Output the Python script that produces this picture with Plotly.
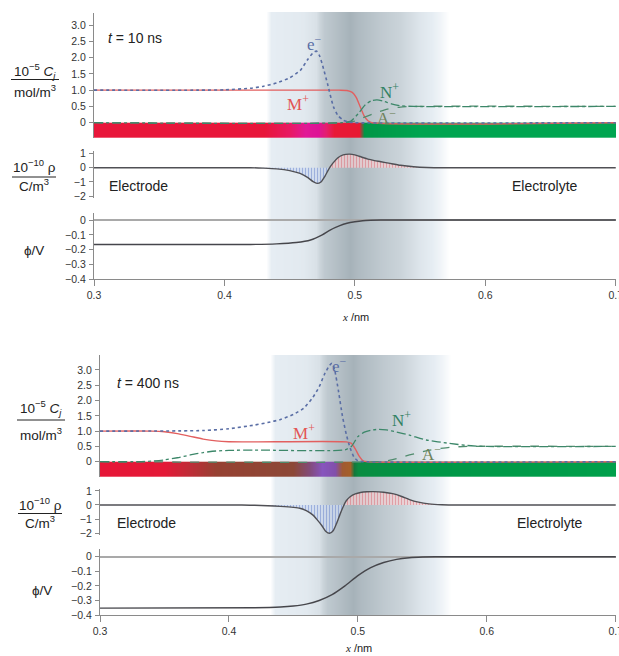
import numpy as np
import plotly.graph_objects as go

W, H = 619, 656

# ---------------- data: t = 10 ns ----------------
t10_M_x = [0.30, 0.40, 0.488, 0.494, 0.498, 0.501, 0.504, 0.507, 0.510, 0.513, 0.70]
t10_M_y = [1.0, 1.0, 1.0, 0.99, 0.93, 0.78, 0.5, 0.22, 0.06, 0.0, 0.0]

t10_e_x = [0.30, 0.38, 0.40, 0.42, 0.43, 0.44, 0.45, 0.458, 0.464, 0.468, 0.4705, 0.473, 0.476,
           0.479, 0.4835, 0.487, 0.491, 0.495, 0.50, 0.70]
t10_e_y = [1.0, 1.0, 1.01, 1.06, 1.12, 1.22, 1.38, 1.6, 1.95, 2.15, 2.2, 2.05, 1.65,
           1.2, 0.5, 0.22, 0.08, 0.02, 0.0, 0.0]

t10_N_x = [0.30, 0.490, 0.497, 0.503, 0.508, 0.513, 0.517, 0.522, 0.528, 0.535, 0.545, 0.70]
t10_N_y = [0.0, 0.0, 0.05, 0.3, 0.55, 0.68, 0.7, 0.66, 0.58, 0.52, 0.5, 0.5]

t10_A_x = [0.30, 0.492, 0.500, 0.508, 0.516, 0.525, 0.535, 0.545, 0.70]
t10_A_y = [0.0, 0.0, 0.05, 0.18, 0.3, 0.42, 0.48, 0.5, 0.5]

t10_rho_x = [0.30, 0.42, 0.43, 0.44, 0.45, 0.458, 0.464, 0.468, 0.471, 0.474, 0.477, 0.480, 0.483,
             0.487, 0.491, 0.496, 0.500, 0.505, 0.510, 0.515, 0.520, 0.527, 0.535, 0.545, 0.555, 0.570, 0.70]
t10_rho_y = [0.0, 0.0, -0.03, -0.08, -0.2, -0.4, -0.7, -0.98, -1.1, -1.0, -0.6, -0.1, 0.3,
             0.7, 0.9, 0.95, 0.9, 0.75, 0.6, 0.5, 0.42, 0.3, 0.17, 0.07, 0.02, 0.0, 0.0]

t10_phi_x = [0.30, 0.42, 0.44, 0.455, 0.466, 0.475, 0.481, 0.488, 0.494, 0.500, 0.506, 0.512, 0.520, 0.70]
t10_phi_y = [-0.165, -0.165, -0.161, -0.152, -0.135, -0.10, -0.068, -0.04, -0.022, -0.012, -0.005, -0.002, 0.0, 0.0]

t10_strip_x = [0.30, 0.43, 0.45, 0.462, 0.472, 0.478, 0.484, 0.503, 0.507, 0.55, 0.70]
t10_strip_c = ["rgb(232,22,58)", "rgb(232,22,58)", "rgb(232,25,100)", "rgb(225,25,150)",
               "rgb(222,20,150)", "rgb(228,30,110)", "rgb(232,25,55)", "rgb(232,25,50)",
               "rgb(0,150,70)", "rgb(0,165,80)", "rgb(0,165,80)"]

# ---------------- data: t = 400 ns ----------------
t400_M_x = [0.30, 0.34, 0.35, 0.36, 0.37, 0.38, 0.39, 0.40, 0.42, 0.491, 0.495, 0.498, 0.501, 0.504, 0.508, 0.70]
t400_M_y = [1.0, 1.0, 0.98, 0.92, 0.83, 0.74, 0.68, 0.655, 0.65, 0.65, 0.6, 0.42, 0.18, 0.03, 0.0, 0.0]

t400_e_x = [0.30, 0.38, 0.40, 0.42, 0.43, 0.44, 0.45, 0.458, 0.465, 0.470, 0.474, 0.478, 0.480,
            0.482, 0.485, 0.488, 0.491, 0.494, 0.497, 0.500, 0.505, 0.70]
t400_e_y = [1.0, 1.02, 1.08, 1.2, 1.28, 1.38, 1.55, 1.75, 2.1, 2.45, 2.85, 3.15, 3.22,
            3.0, 2.3, 1.5, 0.9, 0.45, 0.15, 0.03, 0.0, 0.0]

t400_N_x = [0.30, 0.33, 0.34, 0.35, 0.36, 0.37, 0.38, 0.39, 0.40, 0.42, 0.490, 0.495, 0.500, 0.505,
            0.510, 0.516, 0.522, 0.530, 0.540, 0.553, 0.571, 0.585, 0.60, 0.70]
t400_N_y = [0.0, 0.0, 0.02, 0.06, 0.13, 0.22, 0.30, 0.35, 0.37, 0.38, 0.39, 0.5, 0.82, 0.97,
            1.03, 1.06, 1.04, 0.97, 0.87, 0.71, 0.6, 0.53, 0.5, 0.5]

t400_A_x = [0.30, 0.515, 0.525, 0.540, 0.556, 0.571, 0.585, 0.70]
t400_A_y = [0.0, 0.0, 0.05, 0.22, 0.38, 0.47, 0.5, 0.5]

t400_rho_x = [0.30, 0.41, 0.42, 0.43, 0.44, 0.45, 0.455, 0.46, 0.465, 0.468, 0.472, 0.475, 0.478,
              0.481, 0.4835, 0.486, 0.4886, 0.491, 0.494, 0.498, 0.502, 0.507, 0.512, 0.520, 0.527,
              0.534, 0.540, 0.547, 0.555, 0.565, 0.580, 0.70]
t400_rho_y = [0.0, 0.0, -0.02, -0.05, -0.1, -0.17, -0.23, -0.4, -0.7, -1.0, -1.45, -1.85, -2.0,
              -1.8, -1.3, -0.7, -0.12, 0.3, 0.58, 0.78, 0.88, 0.93, 0.94, 0.9, 0.8,
              0.6, 0.38, 0.2, 0.08, 0.02, 0.0, 0.0]

t400_phi_x = [0.30, 0.42, 0.44, 0.45, 0.46, 0.47, 0.48, 0.49, 0.50, 0.51, 0.52, 0.53, 0.54, 0.55, 0.56, 0.70]
t400_phi_y = [-0.352, -0.350, -0.345, -0.338, -0.325, -0.30, -0.26, -0.20, -0.13, -0.075, -0.04,
              -0.018, -0.007, -0.002, 0.0, 0.0]

t400_strip_x = [0.30, 0.35, 0.37, 0.39, 0.45, 0.462, 0.472, 0.482, 0.488, 0.494, 0.497, 0.50, 0.55, 0.70]
t400_strip_c = ["rgb(230,22,55)", "rgb(228,25,55)", "rgb(190,45,55)", "rgb(150,65,50)",
                "rgb(140,72,55)", "rgb(130,75,120)", "rgb(135,85,190)", "rgb(130,80,170)",
                "rgb(160,90,50)", "rgb(165,95,40)", "rgb(20,120,60)", "rgb(10,140,65)",
                "rgb(0,150,70)", "rgb(0,160,75)"]

# gray interfacial band
band_x = [0.30, 0.432, 0.436, 0.460, 0.470, 0.476, 0.486, 0.496, 0.502, 0.510, 0.520, 0.535, 0.550, 0.565, 0.572, 0.70]
band_level = [0.0, 0.0, 0.1, 0.13, 0.2, 0.42, 0.55, 0.68, 0.6, 0.52, 0.42, 0.3, 0.16, 0.06, 0.0, 0.0]

x_ticks = [0.3, 0.4, 0.5, 0.6, 0.7]
x_ticktext = ["0.3", "0.4", "0.5", "0.6", "0.7"]
c_ticks = [0, 0.5, 1.0, 1.5, 2.0, 2.5, 3.0]
c_ticktext = ["0", "0.5", "1.0", "1.5", "2.0", "2.5", "3.0"]
r_ticks = [1, 0, -1, -2]
r_ticktext = ["1", "0", "\u22121", "\u22122"]
p_ticks = [0, -0.1, -0.2, -0.3, -0.4]
p_ticktext = ["0", "\u22120.1", "\u22120.2", "\u22120.3", "\u22120.4"]

X_RANGE = [0.3, 0.7002]

# ---------------- layout helpers ----------------
def ydom(top, bot):
    return [1 - bot / H, 1 - top / H]

def xdom(l, r):
    return [l / W, r / W]

def P(x, y):
    return x / W, 1 - y / H

SANS = "Liberation Sans, Arial, sans-serif"
SERIF = "Liberation Serif, Times New Roman, serif"
AX = "#8a8a8a"

fig = go.Figure()

panels = [
    dict(xd=(94, 616), band=(12, 279.3), conc=(13, 138), crange=[-0.47, 3.37],
         rho=(151.3, 198.4), phi=(212.6, 279.3),
         M=(t10_M_x, t10_M_y), e=(t10_e_x, t10_e_y), N=(t10_N_x, t10_N_y), A=(t10_A_x, t10_A_y),
         rho_d=(t10_rho_x, t10_rho_y), phi_d=(t10_phi_x, t10_phi_y),
         strip=(t10_strip_x, t10_strip_c), sbot=-0.47,
         ids=dict(band="", conc="3", rho="4", phi="5")),
    dict(xd=(100, 616), band=(355, 615.1), conc=(355, 477), crange=[-0.5, 3.49],
         rho=(488.7, 535.4), phi=(549.4, 615.1),
         M=(t400_M_x, t400_M_y), e=(t400_e_x, t400_e_y), N=(t400_N_x, t400_N_y), A=(t400_A_x, t400_A_y),
         rho_d=(t400_rho_x, t400_rho_y), phi_d=(t400_phi_x, t400_phi_y),
         strip=(t400_strip_x, t400_strip_c), sbot=-0.5,
         ids=dict(band="2", conc="6", rho="7", phi="8")),
]

band_cs = [[0, "rgb(255,255,255)"], [0.1, "rgb(230,237,243)"], [0.3, "rgb(203,212,218)"],
           [1, "rgb(135,150,158)"]]

layout_axes = {}
for p in panels:
    ids = p["ids"]
    xd = xdom(*p["xd"])

    def ax(i):
        return ("x" + i, "y" + i)

    # band
    bx, by = ax(ids["band"])
    fig.add_trace(go.Heatmap(x=band_x, y=[0, 1], z=[band_level, band_level], zsmooth="best",
                             colorscale=band_cs, zmin=0, zmax=1, showscale=False,
                             hoverinfo="skip", xaxis=bx, yaxis=by))
    layout_axes["xaxis" + ids["band"]] = dict(domain=xd, range=X_RANGE, visible=False,
                                              anchor=by)
    layout_axes["yaxis" + ids["band"]] = dict(domain=ydom(*p["band"]), range=[0, 1], visible=False,
                                              anchor=bx)

    # concentrations + strip
    cx, cy = ax(ids["conc"])
    sx, sc = p["strip"]
    n = len(sx)
    cs = [[i / (n - 1), sc[i]] for i in range(n)]
    idx = list(range(n))
    fig.add_trace(go.Heatmap(x=sx, y=[p["sbot"], p["sbot"] / 2, 0], z=[idx, idx], zsmooth="best",
                             colorscale=cs, zmin=0, zmax=n - 1, showscale=False,
                             hoverinfo="skip", xaxis=cx, yaxis=cy))
    fig.add_trace(go.Scatter(x=p["M"][0], y=p["M"][1], mode="lines",
                             line=dict(color="rgb(226,95,95)", width=1.4, shape="spline", smoothing=0.6),
                             xaxis=cx, yaxis=cy))
    fig.add_trace(go.Scatter(x=p["A"][0], y=p["A"][1], mode="lines",
                             line=dict(color="rgb(80,140,110)", width=1.3, dash="dash", shape="spline", smoothing=0.6),
                             xaxis=cx, yaxis=cy))
    fig.add_trace(go.Scatter(x=p["N"][0], y=p["N"][1], mode="lines",
                             line=dict(color="rgb(60,135,105)", width=1.3, dash="dashdot", shape="spline", smoothing=0.6),
                             xaxis=cx, yaxis=cy))
    fig.add_trace(go.Scatter(x=p["e"][0], y=p["e"][1], mode="lines",
                             line=dict(color="rgb(90,110,165)", width=1.6, dash="dot", shape="spline", smoothing=0.6),
                             xaxis=cx, yaxis=cy))
    layout_axes["xaxis" + ids["conc"]] = dict(domain=xd, range=X_RANGE, visible=False, anchor=cy)
    layout_axes["yaxis" + ids["conc"]] = dict(domain=ydom(*p["conc"]), range=p["crange"],
                                              tickvals=c_ticks, ticktext=c_ticktext, anchor=cx)

    # charge density
    rx, ry = ax(ids["rho"])
    rxv, ryv = p["rho_d"]
    ryv = np.array(ryv)
    fig.add_trace(go.Scatter(x=rxv, y=np.minimum(ryv, 0), mode="lines", fill="tozeroy",
                             line=dict(width=0, shape="spline", smoothing=0.6),
                             fillcolor="rgba(200,215,240,0.7)",
                             fillpattern=dict(shape="|", fgcolor="rgba(85,115,195,0.85)",
                                              bgcolor="rgba(205,218,242,0.7)", size=3, solidity=0.35),
                             xaxis=rx, yaxis=ry))
    fig.add_trace(go.Scatter(x=rxv, y=np.maximum(ryv, 0), mode="lines", fill="tozeroy",
                             line=dict(width=0, shape="spline", smoothing=0.6),
                             fillcolor="rgba(245,205,210,0.7)",
                             fillpattern=dict(shape="|", fgcolor="rgba(215,90,100,0.85)",
                                              bgcolor="rgba(245,208,212,0.7)", size=3, solidity=0.35),
                             xaxis=rx, yaxis=ry))
    fig.add_trace(go.Scatter(x=rxv, y=ryv, mode="lines",
                             line=dict(color="rgb(80,80,85)", width=1.4, shape="spline", smoothing=0.6),
                             xaxis=rx, yaxis=ry))
    layout_axes["xaxis" + ids["rho"]] = dict(domain=xd, range=X_RANGE, visible=False, anchor=ry)
    layout_axes["yaxis" + ids["rho"]] = dict(domain=ydom(*p["rho"]), range=[-2.15, 1.15],
                                             tickvals=r_ticks, ticktext=r_ticktext, anchor=rx)

    # potential
    px_, py_ = ax(ids["phi"])
    fig.add_trace(go.Scatter(x=p["phi_d"][0], y=p["phi_d"][1], mode="lines",
                             line=dict(color="rgb(70,70,75)", width=1.4, shape="spline", smoothing=0.6),
                             xaxis=px_, yaxis=py_))
    layout_axes["xaxis" + ids["phi"]] = dict(domain=xd, range=X_RANGE, anchor=py_,
                                             tickvals=x_ticks, ticktext=x_ticktext,
                                             showline=True, linecolor=AX, linewidth=1.2,
                                             ticks="outside", ticklen=6, tickcolor=AX, tickwidth=1.2,
                                             ticklabeloverflow="allow",
                                             tickfont=dict(family=SANS, size=10.5, color="#333"),
                                             showgrid=False, zeroline=False)
    layout_axes["yaxis" + ids["phi"]] = dict(domain=ydom(*p["phi"]), range=[-0.4, 0.05],
                                             tickvals=p_ticks, ticktext=p_ticktext, anchor=px_,
                                             zeroline=True, zerolinecolor="#a9a9a9", zerolinewidth=2)

for k, v in layout_axes.items():
    if k.startswith("yaxis") and v.get("visible", True):
        v.setdefault("showline", True)
        v.setdefault("linecolor", AX)
        v.setdefault("linewidth", 1.2)
        v.setdefault("ticks", "outside")
        v.setdefault("ticklen", 4)
        v.setdefault("tickcolor", AX)
        v.setdefault("tickfont", dict(family=SANS, size=10.5, color="#333"))
        v.setdefault("ticklabelstandoff", 1)
    v.setdefault("showgrid", False)
    v.setdefault("zeroline", False)
    v["automargin"] = False
    v["fixedrange"] = True

fig.update_layout(**layout_axes)

# ---------------- text ----------------
ann = []
shapes = []

def text(x, y, s, size=14, color="#222", family=SANS, xanchor="center"):
    xx, yy = P(x, y)
    ann.append(dict(x=xx, y=yy, xref="paper", yref="paper", text=s, showarrow=False,
                    xanchor=xanchor, yanchor="middle", font=dict(family=family, size=size, color=color)))

def frac(cx, y_num, y_bar, y_den, num, den, half=24):
    text(cx, y_num, num, size=13.5)
    text(cx, y_den, den, size=13.5)
    x0, y0 = P(cx - half, y_bar)
    x1, _ = P(cx + half, y_bar)
    shapes.append(dict(type="line", xref="paper", yref="paper", x0=x0, x1=x1, y0=y0, y1=y0,
                       line=dict(color="#222", width=1)))

conc_num = "10<sup>\u22125</sup> <i>C<sub>j</sub></i>"
conc_den = "mol/m<sup>3</sup>"
rho_num = "10<sup>\u221210</sup> \u03c1"
rho_den = "C/m<sup>3</sup>"

LBL = 17
# top panel
frac(35, 71, 79.5, 91, conc_num, conc_den)
frac(34, 166, 177, 185.5, rho_num, rho_den, half=22)
text(34, 250, "\u03d5/V", size=13.5)
text(106, 38, "<i>t</i> = 10 ns", size=14, xanchor="left")
text(107, 186, "Electrode", size=14, xanchor="left")
text(510, 186, "Electrolyte", size=14, xanchor="left")
text(355, 317, "<i><span style='font-family:Liberation Serif'>x</span></i> /nm", size=11)
text(314, 43, "e<sup>\u2212</sup>", size=LBL, color="rgb(90,110,165)", family=SERIF)
text(298, 103, "M<sup>+</sup>", size=LBL, color="rgb(226,85,85)", family=SERIF)
text(389, 91, "N<sup>+</sup>", size=LBL, color="rgb(50,130,100)", family=SERIF)
text(386, 117, "A<sup>\u2212</sup>", size=LBL, color="rgb(110,130,90)", family=SERIF)

# bottom panel
frac(41, 408, 420, 434, conc_num, conc_den)
frac(40, 504, 513.5, 522, rho_num, rho_den, half=22)
text(42, 590, "\u03d5/V", size=13.5)
text(115, 383, "<i>t</i> = 400 ns", size=14, xanchor="left")
text(115, 523, "Electrode", size=14, xanchor="left")
text(515, 523, "Electrolyte", size=14, xanchor="left")
text(358, 648, "<i><span style='font-family:Liberation Serif'>x</span></i> /nm", size=11)
text(339, 365, "e<sup>\u2212</sup>", size=LBL, color="rgb(90,110,165)", family=SERIF)
text(304, 432, "M<sup>+</sup>", size=LBL, color="rgb(226,85,85)", family=SERIF)
text(401, 419, "N<sup>+</sup>", size=LBL, color="rgb(50,130,100)", family=SERIF)
text(431, 453, "A<sup>\u2212</sup>", size=LBL, color="rgb(110,130,90)", family=SERIF)

fig.update_layout(
    width=W, height=H, margin=dict(l=0, r=0, t=0, b=0, autoexpand=False),
    paper_bgcolor="white", plot_bgcolor="rgba(0,0,0,0)",
    showlegend=False, hovermode=False,
    annotations=ann, shapes=shapes,
    font=dict(family=SANS),
)

fig.write_html("out.html", config=dict(displayModeBar=False),
               post_script="document.body.style.margin='0';document.body.style.overflow='hidden';")
